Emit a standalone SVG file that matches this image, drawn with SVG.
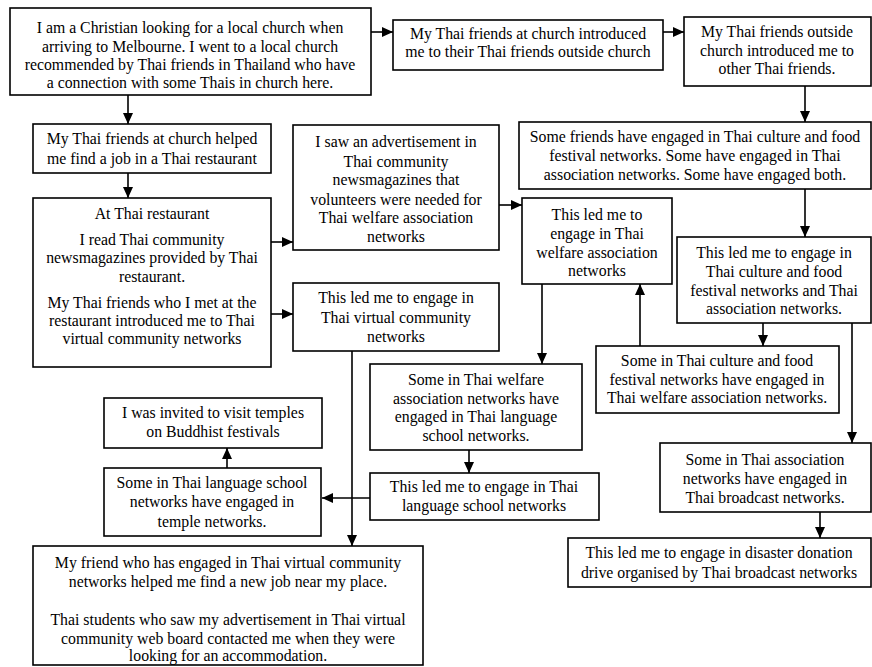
<svg xmlns="http://www.w3.org/2000/svg" width="872" height="667" viewBox="0 0 872 667">
<defs>
<marker id="ah" markerUnits="userSpaceOnUse" markerWidth="12" markerHeight="12" viewBox="0 0 12 12" refX="11" refY="6" orient="auto">
<path d="M0,1 L11,6 L0,11 Z" fill="#000"/>
</marker>
</defs>
<style>
rect{fill:#fff;stroke:#000;stroke-width:1.6}
text{font-family:"Liberation Serif","Times New Roman","DejaVu Serif",serif;font-size:15.8px;fill:#000;text-anchor:middle}
#connectors line{stroke:#000;stroke-width:1.6;marker-end:url(#ah)}
</style>
<rect x="0" y="0" width="872" height="667" style="stroke:none"/>
<g id="connectors">
<line x1="371" y1="32" x2="393" y2="32"/>
<line x1="663" y1="32" x2="684" y2="32"/>
<line x1="805" y1="86" x2="805" y2="122"/>
<line x1="128" y1="95" x2="128" y2="124"/>
<line x1="128" y1="173" x2="128" y2="198"/>
<line x1="271" y1="242" x2="293" y2="242"/>
<line x1="271" y1="314" x2="293" y2="314"/>
<line x1="499" y1="205" x2="522" y2="205"/>
<line x1="805" y1="189" x2="805" y2="237"/>
<line x1="763" y1="323" x2="763" y2="346"/>
<line x1="640" y1="346" x2="640" y2="284"/>
<line x1="852" y1="323" x2="852" y2="443"/>
<line x1="820" y1="512" x2="820" y2="538"/>
<line x1="542" y1="284" x2="542" y2="364"/>
<line x1="469" y1="450" x2="469" y2="473"/>
<line x1="370" y1="498" x2="322" y2="498"/>
<line x1="227" y1="468" x2="227" y2="448"/>
<line x1="352" y1="351" x2="352" y2="546"/>
</g>
<g id="n1"><rect x="10" y="8" width="361" height="87"/>
<text x="190" y="33">I am a Christian looking for a local church when</text>
<text x="190" y="52">arriving to Melbourne. I went to a local church</text>
<text x="190" y="70">recommended by Thai friends in Thailand who have</text>
<text x="190" y="88">a connection with some Thais in church here.</text></g>
<g id="n2"><rect x="393" y="20" width="270" height="50"/>
<text x="528" y="39">My Thai friends at church introduced</text>
<text x="528" y="57">me to their Thai friends outside church</text></g>
<g id="n3"><rect x="684" y="17" width="187" height="69"/>
<text x="777" y="37">My Thai friends outside</text>
<text x="777" y="56">church introduced me to</text>
<text x="777" y="74">other Thai friends.</text></g>
<g id="n4"><rect x="33" y="124" width="238" height="49"/>
<text x="152" y="144">My Thai friends at church helped</text>
<text x="152" y="164">me find a job in a Thai restaurant</text></g>
<g id="n5"><rect x="33" y="198" width="238" height="169"/>
<text x="152" y="219">At Thai restaurant</text>
<text x="152" y="245">I read Thai community</text>
<text x="152" y="263">newsmagazines provided by Thai</text>
<text x="152" y="282">restaurant.</text>
<text x="152" y="308">My Thai friends who I met at the</text>
<text x="152" y="326">restaurant introduced me to Thai</text>
<text x="152" y="344">virtual community networks</text></g>
<g id="n6"><rect x="293" y="125" width="206" height="125"/>
<text x="396" y="147">I saw an advertisement in</text>
<text x="396" y="167">Thai community</text>
<text x="396" y="185">newsmagazines that</text>
<text x="396" y="205">volunteers were needed for</text>
<text x="396" y="223">Thai welfare association</text>
<text x="396" y="242">networks</text></g>
<g id="n7"><rect x="293" y="283" width="206" height="68"/>
<text x="396" y="303">This led me to engage in</text>
<text x="396" y="323">Thai virtual community</text>
<text x="396" y="342">networks</text></g>
<g id="n8"><rect x="519" y="122" width="352" height="67"/>
<text x="695" y="142">Some friends have engaged in Thai culture and food</text>
<text x="695" y="161">festival networks. Some have engaged in Thai</text>
<text x="695" y="180">association networks. Some have engaged both.</text></g>
<g id="n9"><rect x="522" y="198" width="150" height="86"/>
<text x="597" y="220">This led me to</text>
<text x="597" y="239">engage in Thai</text>
<text x="597" y="258">welfare association</text>
<text x="597" y="276">networks</text></g>
<g id="n10"><rect x="677" y="237" width="194" height="86"/>
<text x="774" y="258">This led me to engage in</text>
<text x="774" y="277">Thai culture and food</text>
<text x="774" y="296">festival networks and Thai</text>
<text x="774" y="314">association networks.</text></g>
<g id="n11"><rect x="596" y="346" width="243" height="67"/>
<text x="717" y="366">Some in Thai culture and food</text>
<text x="717" y="385">festival networks have engaged in</text>
<text x="717" y="403">Thai welfare association networks.</text></g>
<g id="n12"><rect x="370" y="364" width="212" height="86"/>
<text x="476" y="385">Some in Thai welfare</text>
<text x="476" y="404">association networks have</text>
<text x="476" y="422">engaged in Thai language</text>
<text x="476" y="441">school networks.</text></g>
<g id="n13"><rect x="370" y="473" width="229" height="47"/>
<text x="484" y="492">This led me to engage in Thai</text>
<text x="484" y="511">language school networks</text></g>
<g id="n14"><rect x="104" y="398" width="218" height="50"/>
<text x="213" y="418">I was invited to visit temples</text>
<text x="213" y="437">on Buddhist festivals</text></g>
<g id="n15"><rect x="104" y="468" width="217" height="68"/>
<text x="212" y="488">Some in Thai language school</text>
<text x="212" y="507">networks have engaged in</text>
<text x="212" y="527">temple networks.</text></g>
<g id="n16"><rect x="33" y="546" width="390" height="119"/>
<text x="228" y="568">My friend who has engaged in Thai virtual community</text>
<text x="228" y="587">networks helped me find a new job near my place.</text>
<text x="228" y="625">Thai students who saw my advertisement in Thai virtual</text>
<text x="228" y="644">community web board contacted me when they were</text>
<text x="228" y="661">looking for an accommodation.</text></g>
<g id="n17"><rect x="660" y="443" width="211" height="69"/>
<text x="765" y="465">Some in Thai association</text>
<text x="765" y="484">networks have engaged in</text>
<text x="765" y="503">Thai broadcast networks.</text></g>
<g id="n18"><rect x="568" y="538" width="303" height="49"/>
<text x="719" y="558">This led me to engage in disaster donation</text>
<text x="719" y="578">drive organised by Thai broadcast networks</text></g>
</svg>
